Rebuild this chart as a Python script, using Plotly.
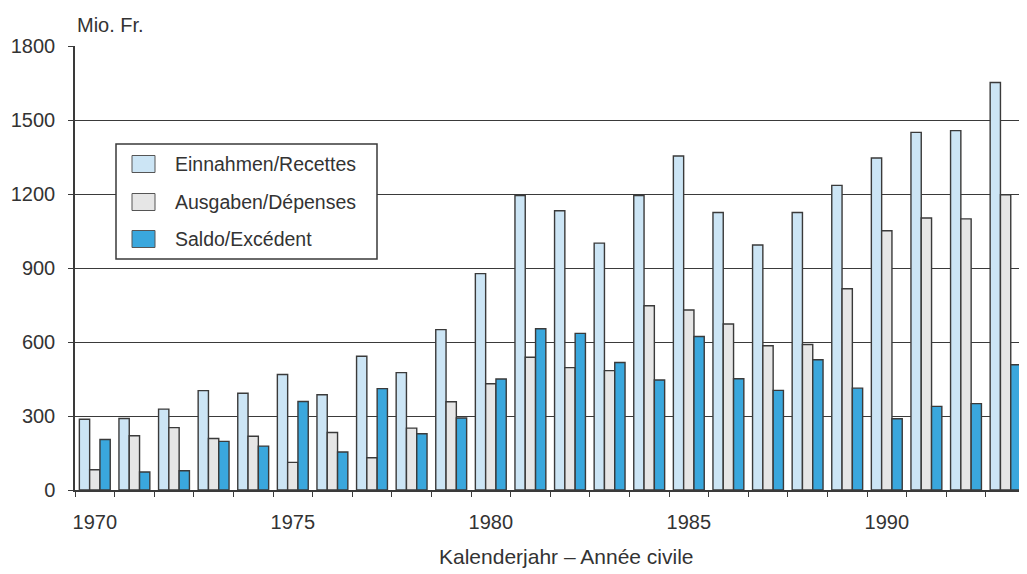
import plotly.graph_objects as go

years = list(range(1970, 1994))
einnahmen = [287, 290, 328, 403, 392, 468, 386, 542, 476, 650, 877, 1194, 1132, 1001,
             1194, 1354, 1125, 993, 1125, 1235, 1346, 1450, 1457, 1652]
ausgaben = [82, 220, 253, 209, 218, 112, 233, 131, 251, 358, 431, 538, 496, 484,
            747, 730, 673, 585, 590, 816, 1051, 1103, 1099, 1197]
saldo = [205, 73, 78, 197, 178, 359, 154, 411, 228, 292, 450, 654, 635, 517,
         446, 622, 451, 404, 528, 413, 289, 339, 350, 508]

series_names = ["Einnahmen/Recettes", "Ausgaben/Dépenses", "Saldo/Excédent"]
series_colors = ["#cce5f5", "#e6e6e6", "#3aa7dd"]
y_ticks = [0, 300, 600, 900, 1200, 1500, 1800]
x_ticks = [1970, 1975, 1980, 1985, 1990]

FONT = "Liberation Sans, Arial, Helvetica, sans-serif"
TXT = "#333333"
LINE = "#3a3a3a"

fig = go.Figure()
for name, vals, col in zip(series_names, [einnahmen, ausgaben, saldo], series_colors):
    fig.add_trace(go.Bar(
        x=years, y=vals, name=name, showlegend=False,
        marker=dict(color=col, line=dict(color=LINE, width=1.4)),
    ))

# page body has an 8px margin; compensate so the chart lands where the reference has it
OFF = 8
SW, SH = 1027, 574
W, H = SW - OFF, SH - OFF
L, R, T, B = 75 - OFF, 0, 46 - OFF, SH - 490
pw = W - L - R
ph = H - T - B
px_per_year = 39.6
x0 = 1969.5
x1 = x0 + pw / px_per_year


def px2x(p):
    # screen pixel -> paper x
    return (p - 75) / pw


def py2y(p):
    # screen pixel -> paper y
    return (490 - p) / ph


shapes = []
annotations = []
# manual legend box
shapes.append(dict(type="rect", xref="paper", yref="paper",
                   x0=px2x(116), x1=px2x(377), y0=py2y(259), y1=py2y(144),
                   fillcolor="white", line=dict(color=LINE, width=1.5), layer="above"))
row_centers = [164, 202, 239]
for name, col, cy in zip(series_names, series_colors, row_centers):
    shapes.append(dict(type="rect", xref="paper", yref="paper",
                       x0=px2x(132), x1=px2x(155), y0=py2y(cy + 8.5), y1=py2y(cy - 8.5),
                       fillcolor=col, line=dict(color="#555555", width=1), layer="above"))
    annotations.append(dict(text=name, xref="paper", yref="paper", x=px2x(173), y=py2y(cy),
                            xanchor="left", yanchor="middle", showarrow=False,
                            font=dict(family=FONT, size=19.5, color=TXT)))

annotations.append(dict(text="Mio. Fr.", xref="paper", yref="paper", x=px2x(75), y=py2y(25),
                        xanchor="left", yanchor="middle", showarrow=False,
                        font=dict(family=FONT, size=20, color=TXT)))
annotations.append(dict(text="Kalenderjahr – Année civile", xref="paper", yref="paper",
                        x=px2x(566), y=py2y(556), xanchor="center", yanchor="middle",
                        showarrow=False, font=dict(family=FONT, size=21, color=TXT)))

fig.update_layout(
    width=W, height=H,
    margin=dict(l=L, r=R, t=T, b=B, pad=0),
    paper_bgcolor="white", plot_bgcolor="white",
    barmode="group", bargap=0.22, bargroupgap=0,
    shapes=shapes, annotations=annotations,
    font=dict(family=FONT, color=TXT),
)
fig.update_xaxes(
    range=[x0, x1], tickmode="array", tickvals=x_ticks, ticktext=[str(v) for v in x_ticks],
    ticks="outside", ticklen=5, tickcolor="rgba(0,0,0,0)",
    tickfont=dict(family=FONT, size=20, color=TXT), ticklabelstandoff=8,
    showline=True, linecolor=LINE, linewidth=1.5, showgrid=False, zeroline=False,
    minor=dict(tick0=1969.5, dtick=1, ticks="outside", ticklen=5, tickcolor=LINE, tickwidth=1.3,
               showgrid=False),
)
fig.update_yaxes(
    range=[0, 1800], tickmode="array", tickvals=y_ticks,
    ticks="outside", ticklen=5, tickcolor=LINE, tickwidth=1.3,
    tickfont=dict(family=FONT, size=20, color=TXT), ticklabelstandoff=9,
    showline=True, linecolor=LINE, linewidth=1.5,
    showgrid=True, gridcolor=LINE, gridwidth=1.3, zeroline=False,
)

fig.write_html("out.html")
